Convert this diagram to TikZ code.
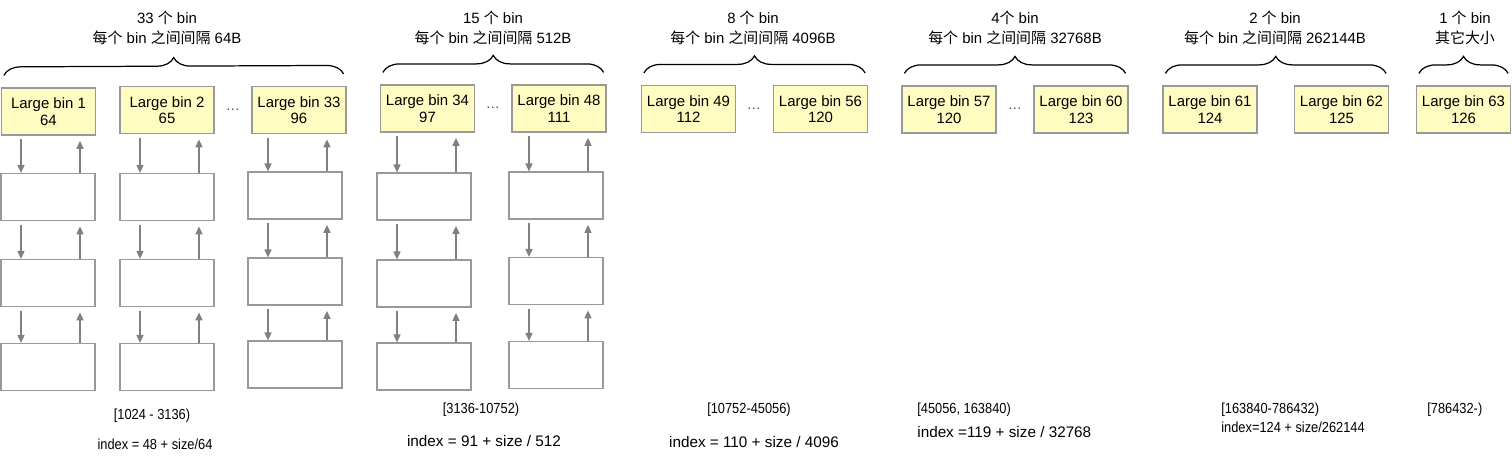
\documentclass[tikz,border=0pt]{standalone}
\usepackage{fontspec}
\setmainfont{Liberation Sans}
\newfontfamily\cjk{Noto Sans CJK SC}
\newfontfamily\narrowsans[FakeStretch=0.88]{Liberation Sans}
\newcommand{\zh}[1]{{\cjk #1}}
\usetikzlibrary{arrows.meta, positioning, decorations.pathreplacing, calc}
\definecolor{binyellow}{RGB}{255,252,193}

\begin{document}
\begin{tikzpicture}[
    x=0.02cm, y=-0.02cm,
    bin/.style={draw=black!40, fill=binyellow, line width=0.7pt, minimum width=1.88cm, minimum height=0.94cm, inner sep=0pt, align=center, font=\fontsize{8.5}{9.4}\selectfont},
    chunk/.style={draw=black!40, fill=white, line width=0.7pt, minimum width=1.88cm, minimum height=0.94cm, inner sep=0pt},
    lnk/.style={-{Triangle[length=4.5pt,width=4pt]}, draw=black!50, fill=black!50, line width=0.75pt},
    grp/.style={decorate, decoration={brace, amplitude=0.34cm}, line width=0.7pt},
    grptitle/.style={align=center, font=\fontsize{8.5}{11.3}\selectfont},
    dots/.style={font=\fontsize{8}{8}\selectfont, text=black!70},
    sizerange/.style={font=\narrowsans\fontsize{8.3}{9}\selectfont},
    formula/.style={font=\fontsize{8.7}{9}\selectfont},
]
\useasboundingbox (0,0) rectangle (1512,458);

% ── Group titles ──
\node[grptitle] (t1) at (167,28) {33 \zh{个} bin\\\zh{每个} bin \zh{之间间隔} 64B};
\node[grptitle] (t2) at (493,28) {15 \zh{个} bin\\\zh{每个} bin \zh{之间间隔} 512B};
\node[grptitle] (t3) at (753,28) {8 \zh{个} bin\\\zh{每个} bin \zh{之间间隔} 4096B};
\node[grptitle] (t4) at (1015,28) {4\zh{个} bin\\\zh{每个} bin \zh{之间间隔} 32768B};
\node[grptitle] (t5) at (1275,28) {2 \zh{个} bin\\\zh{每个} bin \zh{之间间隔} 262144B};
\node[grptitle] (t6) at (1465,28) {1 \zh{个} bin\\\zh{其它大小}};

% ── Large bins ──
\node[bin] (b1) at (48.5,111.5) {Large bin 1\\64};
\node[bin] (b2) at (167,110) {Large bin 2\\65};
\node[bin] (b33) at (299,110) {Large bin 33\\96};
\node[bin] (b34) at (427.5,108.5) {Large bin 34\\97};
\node[bin] (b48) at (559,108.5) {Large bin 48\\111};
\node[bin] (b49) at (688.5,109) {Large bin 49\\112};
\node[bin] (b56) at (820.5,109) {Large bin 56\\120};
\node[bin] (b57) at (949,109.5) {Large bin 57\\120};
\node[bin] (b60) at (1081,109.5) {Large bin 60\\123};
\node[bin] (b61) at (1210,109.5) {Large bin 61\\124};
\node[bin] (b62) at (1341.5,109.5) {Large bin 62\\125};
\node[bin] (b63) at (1463.5,109.5) {Large bin 63\\126};

\node[dots] (d1) at (233,110) {…};
\node[dots] (d2) at (493,108) {…};
\node[dots] (d3) at (754,109) {…};
\node[dots] (d4) at (1015,109) {…};

% ── Braces ──
\draw[grp] ($(b1.north west)+(3,-12)$) -- ($(b33.north east)+(-3,-12)$);
\draw[grp] ($(b34.north west)+(3,-12)$) -- ($(b48.north east)+(-3,-12)$);
\draw[grp] ($(b49.north west)+(3,-12)$) -- ($(b56.north east)+(-3,-12)$);
\draw[grp] ($(b57.north west)+(3,-12)$) -- ($(b60.north east)+(-3,-12)$);
\draw[grp] ($(b61.north west)+(3,-12)$) -- ($(b62.north east)+(-3,-12)$);
\draw[grp] ($(b63.north west)+(3,-12)$) -- ($(b63.north east)+(-3,-12)$);

% ── Chunk lists ──
\foreach \col/\x/\ya/\yb/\yc/\hd in {1/48/197/283/367/b1, 2/167/197/283/367/b2,
    3/295/195.5/281.5/364.5/b33, 4/424/196.5/283.5/366.5/b34, 5/556/195.5/281/365/b48}{
  \node[chunk] (c\col r1) at (\x,\ya) {};
  \node[chunk] (c\col r2) at (\x,\yb) {};
  \node[chunk] (c\col r3) at (\x,\yc) {};
  \foreach \u/\v in {\hd/c\col r1, c\col r1/c\col r2, c\col r2/c\col r3}{
    \path (\v.north) ++(-27,0) coordinate (dn) (\v.north) ++(32,0) coordinate (up);
    \draw[lnk, shorten <=2pt] (dn |- \u.south) -- (dn);
    \draw[lnk, shorten >=3pt] (up) -- (up |- \u.south);
  }
}

% ── Size ranges and index formulas ──
\node[sizerange] (r1) at (152,416) {[1024 - 3136)};
\node[sizerange] (i1) at (155,444) {index = 48 + size/64};
\node[sizerange] (r2) at (481,410) {[3136-10752)};
\node[formula] (i2) at (484,441) {index = 91 + size / 512};
\node[sizerange] (r3) at (749,410) {[10752-45056)};
\node[formula] (i3) at (754,442) {index = 110 + size / 4096};
\node[sizerange, anchor=west, inner sep=0pt] (r4) at (917,410) {[45056, 163840)};
\node[formula, anchor=west, inner sep=0pt] (i4) at (917,432) {index =119 + size / 32768};
\node[sizerange, anchor=west, inner sep=0pt] (r5) at (1221,410) {[163840-786432)};
\node[sizerange, anchor=west, inner sep=0pt] (i5) at (1221,427) {index=124 + size/262144};
\node[sizerange, anchor=west, inner sep=0pt] (r6) at (1427,410) {[786432-)};

\end{tikzpicture}
\end{document}
